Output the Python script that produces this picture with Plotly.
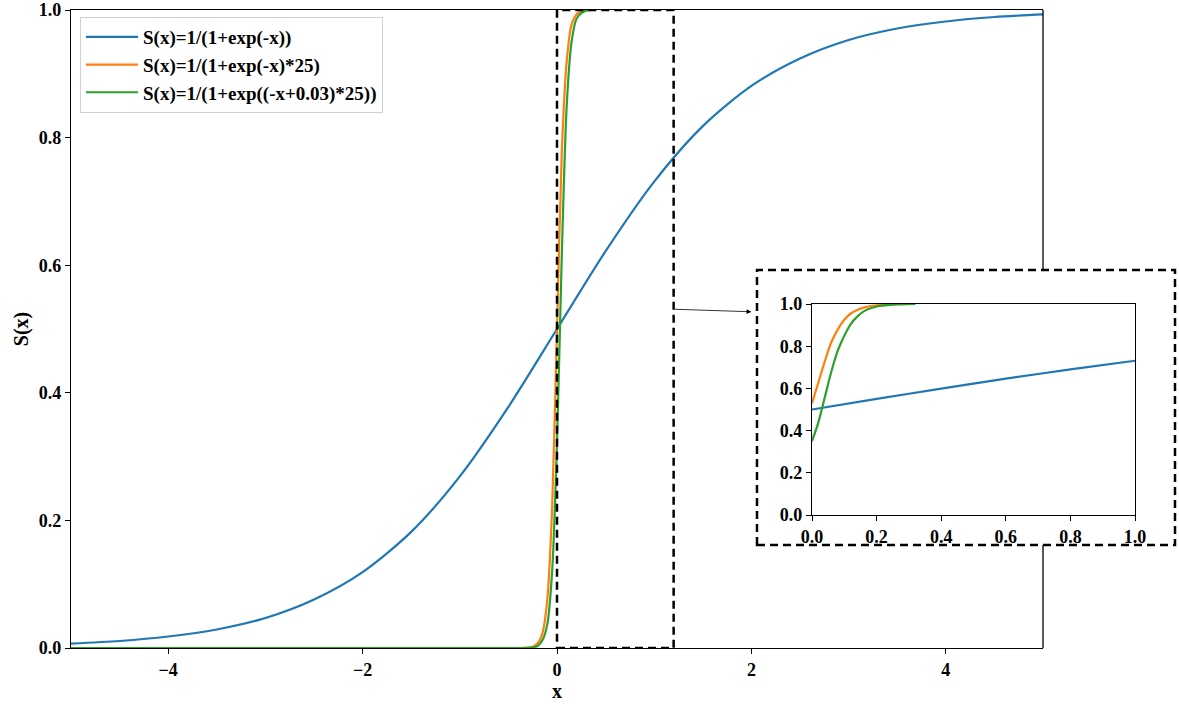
import plotly.graph_objects as go

# curvas principales
x_blue = [-5, -4.5, -4, -3.5, -3, -2.5, -2, -1.5, -1, -0.5, 0, 0.5, 1, 1.5, 2, 2.5, 3, 3.5, 4, 4.5, 5]
y_blue = [0.007, 0.011, 0.018, 0.029, 0.047, 0.076, 0.119, 0.182, 0.269, 0.378, 0.5,
          0.622, 0.731, 0.818, 0.881, 0.924, 0.953, 0.971, 0.982, 0.989, 0.993]

x_orange = [-5, -0.4, -0.3, -0.25, -0.2, -0.15, -0.1, -0.05, 0, 0.05, 0.1, 0.15, 0.2, 0.25, 0.3, 0.35]
y_orange = [0, 0, 0.0006, 0.002, 0.007, 0.023, 0.076, 0.22, 0.5, 0.78, 0.92, 0.977, 0.993, 0.998, 0.9995, 1]

x_green = [-5, -0.4, -0.3, -0.25, -0.2, -0.15, -0.1, -0.05, 0, 0.05, 0.1, 0.15, 0.2, 0.25, 0.3, 0.38]
y_green = [0, 0, 0.0003, 0.001, 0.003, 0.012, 0.037, 0.12, 0.32, 0.62, 0.85, 0.95, 0.986, 0.995, 0.999, 1]

# zoom (inset)
xi_blue = [0, 0.2, 0.4, 0.6, 0.8, 1.0]
yi_blue = [0.5, 0.55, 0.599, 0.646, 0.69, 0.731]

xi_orange = [0, 0.02, 0.04, 0.06, 0.08, 0.1, 0.12, 0.14, 0.16, 0.2, 0.25, 0.3]
yi_orange = [0.53, 0.63, 0.73, 0.82, 0.88, 0.925, 0.955, 0.972, 0.983, 0.994, 0.998, 1.0]

xi_green = [0, 0.02, 0.04, 0.06, 0.08, 0.1, 0.12, 0.14, 0.16, 0.2, 0.25, 0.32]
yi_green = [0.35, 0.44, 0.56, 0.68, 0.78, 0.85, 0.905, 0.94, 0.965, 0.988, 0.997, 1.0]

names = ["S(x)=1/(1+exp(-x))", "S(x)=1/(1+exp(-x)*25)", "S(x)=1/(1+exp((-x+0.03)*25))"]
colors = ["#1f77b4", "#ff7f0e", "#2ca02c"]

FONT = "Liberation Serif"

W, H = 1179, 704
ML, MR, MT, MB = 71, 4, 10, 56
PW = W - ML - MR          # ancho del área de dibujo
PH = H - MT - MB          # alto del área de dibujo


def px(x):
    return (x - ML) / PW


def py(y):
    return (MT + PH - y) / PH


fig = go.Figure()

main = [(x_blue, y_blue), (x_orange, y_orange), (x_green, y_green)]
for (xs, ys), n, c in zip(main, names, colors):
    fig.add_trace(go.Scatter(x=xs, y=ys, mode="lines", name=n,
                             line=dict(color=c, width=2.2, shape="spline", smoothing=0.8),
                             xaxis="x", yaxis="y"))

inset = [(xi_blue, yi_blue), (xi_orange, yi_orange), (xi_green, yi_green)]
for (xs, ys), c in zip(inset, colors):
    fig.add_trace(go.Scatter(x=xs, y=ys, mode="lines", showlegend=False,
                             line=dict(color=c, width=2.2, shape="spline", smoothing=0.8),
                             xaxis="x2", yaxis="y2"))

tickfont = dict(family=FONT, size=18, color="black", weight="bold")
ejes = dict(showgrid=False, zeroline=False, showline=True, linecolor="black", linewidth=1.3,
            ticks="outside", ticklen=5, tickcolor="black", tickfont=tickfont,
            automargin=False, ticklabeloverflow="allow")
ticks01 = [0, 0.2, 0.4, 0.6, 0.8, 1.0]
xr = px(1043)

fig.update_layout(
    width=W, height=H,
    margin=dict(l=ML, r=MR, t=MT, b=MB),
    paper_bgcolor="white", plot_bgcolor="white",
    font=dict(family=FONT, color="black"),
    xaxis=dict(domain=[0, xr], range=[-5, 5], tickvals=[-4, -2, 0, 2, 4], mirror=True,
               title=dict(text="<b>x</b>", font=dict(family=FONT, size=20), standoff=2), **ejes),
    yaxis=dict(domain=[0, 1], range=[0, 1], tickvals=ticks01, tickformat=".1f",
               title=dict(text="<b>S(x)</b>", font=dict(family=FONT, size=20), standoff=4), **ejes),
    xaxis2=dict(domain=[px(812), px(1135)], anchor="y2", range=[0, 1],
                tickvals=ticks01, tickformat=".1f", mirror=True, **ejes),
    yaxis2=dict(domain=[py(515), py(304)], anchor="x2", range=[0, 1],
                tickvals=ticks01, tickformat=".1f", mirror=True, **ejes),
    legend=dict(x=px(80), y=py(17), xanchor="left", yanchor="top",
                bgcolor="white", bordercolor="#d0d0d0", borderwidth=1, itemwidth=52,
                font=dict(family=FONT, size=19, color="black", weight="bold")),
)

# marco derecho del eje principal (cortado por el recuadro del zoom)
fig.add_shape(type="line", xref="paper", yref="paper", x0=xr, x1=xr, y0=1, y1=py(270),
              line=dict(color="black", width=1.3))
fig.add_shape(type="line", xref="paper", yref="paper", x0=xr, x1=xr, y0=0, y1=py(545),
              line=dict(color="black", width=1.3))

# recuadro punteado en el eje principal
fig.add_shape(type="rect", xref="x", yref="y", x0=0, x1=1.2, y0=0, y1=1,
              line=dict(color="black", width=2.5, dash="8px,5px"), layer="above")

# recuadro punteado del zoom
fig.add_shape(type="rect", xref="paper", yref="paper",
              x0=px(757), x1=px(1175), y0=py(545), y1=py(270),
              line=dict(color="black", width=2.5, dash="8px,5px"), layer="above")

# flecha
fig.add_annotation(x=2.0, y=0.527, xref="x", yref="y", ax=1.2, ay=0.531, axref="x", ayref="y",
                   text="", showarrow=True, arrowhead=2, arrowsize=1.2, arrowwidth=0.8, arrowcolor="black")

# quitar el margen por defecto del body para que la figura ocupe la ventana
fig.write_html("out.html", config={"displayModeBar": False},
               post_script="document.body.style.margin='0px';")
